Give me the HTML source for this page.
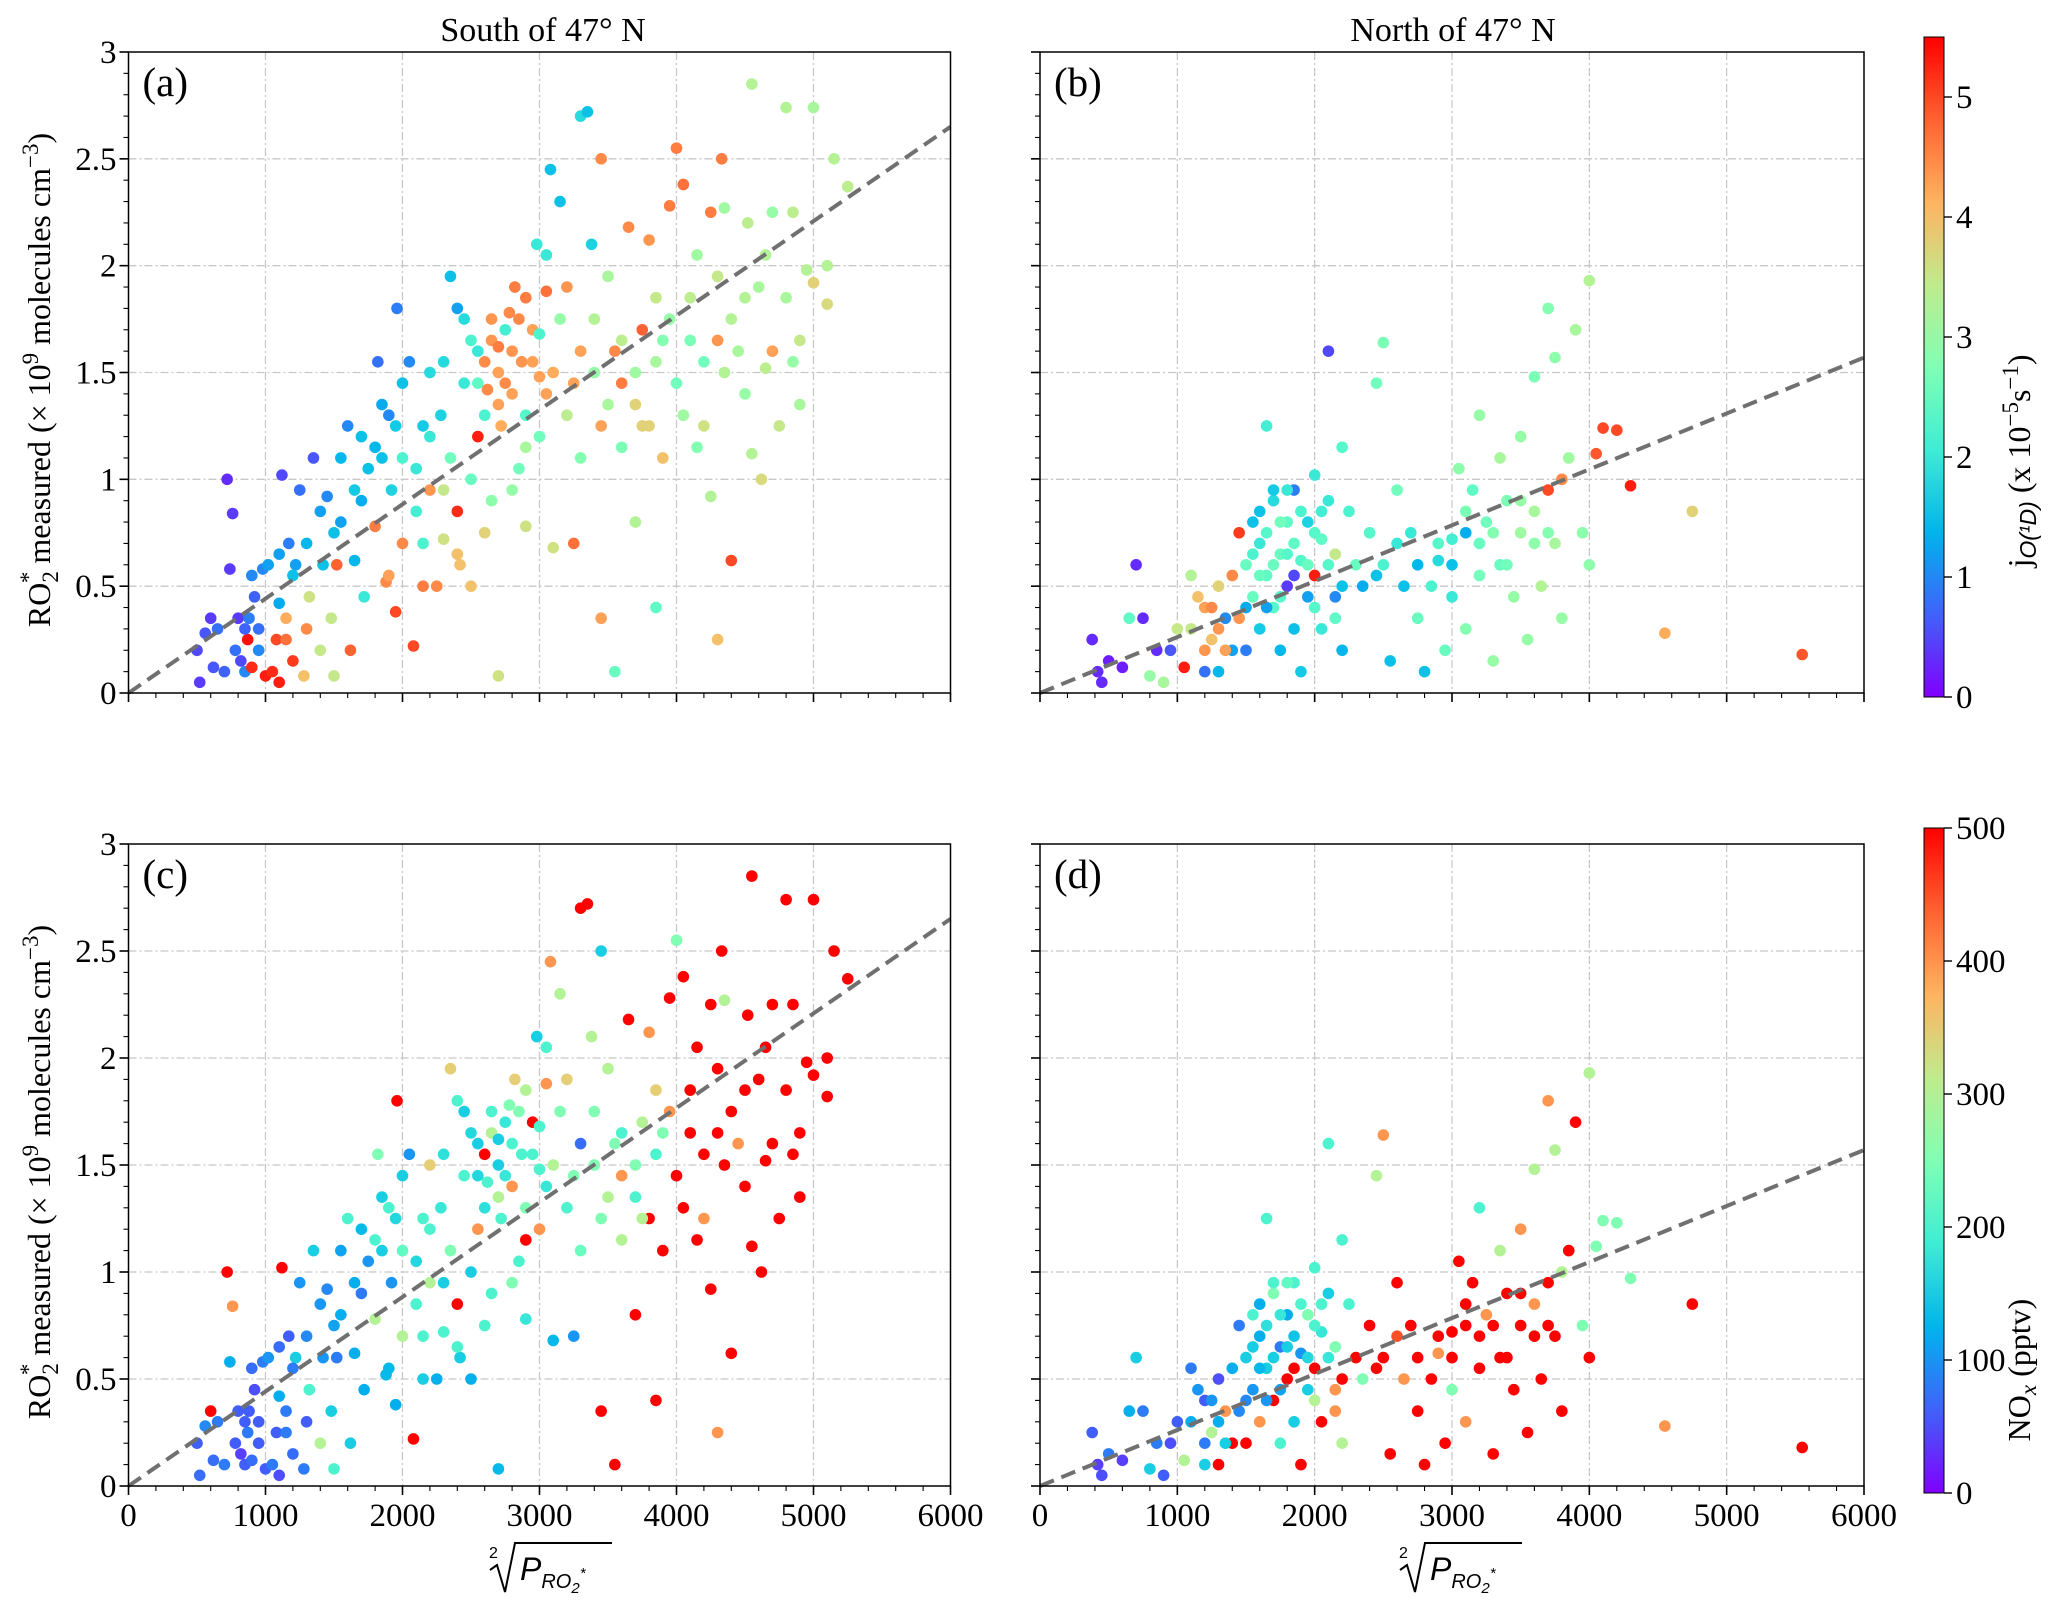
<!DOCTYPE html>
<html><head><meta charset="utf-8">
<style>
html,body{margin:0;padding:0;background:#fff;}
svg{display:block;}
</style></head>
<body>
<svg id="fig" width="2067" height="1612" viewBox="0 0 2067 1612" xmlns="http://www.w3.org/2000/svg" font-family="Liberation Serif, DejaVu Serif, serif">
<defs>
<linearGradient id="rb" x1="0" y1="1" x2="0" y2="0">
<stop offset="0" stop-color="#8000ff"/><stop offset="0.125" stop-color="#4062fa"/><stop offset="0.25" stop-color="#00b5eb"/><stop offset="0.375" stop-color="#40ecd4"/><stop offset="0.5" stop-color="#80ffb4"/><stop offset="0.625" stop-color="#c0eb8d"/><stop offset="0.75" stop-color="#ffb360"/><stop offset="0.875" stop-color="#ff6230"/><stop offset="1" stop-color="#ff0000"/>
</linearGradient>
</defs>
<g id="root"></g>
<text x="543" y="41" font-size="34" text-anchor="middle">South of 47° N</text>
<text x="1453" y="41" font-size="34" text-anchor="middle">North of 47° N</text>
<text transform="translate(50,380) rotate(-90)" font-size="32" text-anchor="middle">RO<tspan font-size="23" dy="8">2</tspan><tspan font-size="23" dy="-22" dx="-12">*</tspan><tspan dy="14"> measured (× 10</tspan><tspan font-size="23" dy="-12">9</tspan><tspan dy="12"> molecules cm</tspan><tspan font-size="23" dy="-12">−3</tspan><tspan dy="12">)</tspan></text>
<text transform="translate(50,1172) rotate(-90)" font-size="32" text-anchor="middle">RO<tspan font-size="23" dy="8">2</tspan><tspan font-size="23" dy="-22" dx="-12">*</tspan><tspan dy="14"> measured (× 10</tspan><tspan font-size="23" dy="-12">9</tspan><tspan dy="12"> molecules cm</tspan><tspan font-size="23" dy="-12">−3</tspan><tspan dy="12">)</tspan></text>
<text transform="translate(2030,461) rotate(-90)" font-size="32" text-anchor="middle">j<tspan font-size="23" dy="6" font-style="italic" font-family="Liberation Sans, sans-serif">O(¹D)</tspan><tspan dy="-6"> (x 10</tspan><tspan font-size="23" dy="-12">−5</tspan><tspan dy="12">s</tspan><tspan font-size="23" dy="-12">−1</tspan><tspan dy="12">)</tspan></text>
<text transform="translate(2030,1370) rotate(-90)" font-size="32" text-anchor="middle">NO<tspan font-size="23" dy="6" font-style="italic">x</tspan><tspan dy="-6"> (pptv)</tspan></text>
<g font-family="Liberation Sans, sans-serif">
<path d="M490 1570 L497 1565 L505 1592 L515 1543 L612 1543" fill="none" stroke="#000" stroke-width="2"/>
<text x="489" y="1558" font-size="16">2</text>
<text x="520" y="1580" font-size="32" font-style="italic">P<tspan font-size="20" dy="8">RO</tspan><tspan font-size="15" dy="5">2</tspan><tspan font-size="15" dy="-15">*</tspan></text>
</g>
<g font-family="Liberation Sans, sans-serif">
<path d="M1400 1570 L1407 1565 L1415 1592 L1425 1543 L1522 1543" fill="none" stroke="#000" stroke-width="2"/>
<text x="1399" y="1558" font-size="16">2</text>
<text x="1430" y="1580" font-size="32" font-style="italic">P<tspan font-size="20" dy="8">RO</tspan><tspan font-size="15" dy="5">2</tspan><tspan font-size="15" dy="-15">*</tspan></text>
</g>
</svg>
<script>
// South of 47N: x, y, jO1D, NOx
const southX = [500,520,560,600,620,650,700,720,740,760,780,800,820,850,870,880,900,920,950,980,1000,1020,1050,1080,1100,1100,1120,1150,1170,1200,1220,1250,1280,1300,1320,1350,1400,1420,1450,1480,1500,1520,1550,1600,1620,1650,1700,1720,1750,1800,1820,1850,1880,1900,1920,1950,1960,2000,2000,2050,2080,2100,2150,2150,2200,2200,2250,2280,2300,2350,2350,2400,2400,2420,2450,2500,2500,2550,2550,2600,2620,2650,2650,2700,2700,2720,2750,2780,2800,2820,2850,2870,2900,2900,2950,2980,3000,3000,3050,3050,3080,3100,3100,3150,3150,3200,3200,3250,3250,3300,3300,3350,3380,3400,3450,3450,3450,3500,3550,3550,3600,3600,3650,3700,3700,3750,3800,3800,3850,3850,3900,3900,3950,4000,4000,4050,4050,4100,4150,4150,4200,4200,4250,4250,4300,4300,4330,4350,4350,4400,4450,4500,4520,4550,4550,4600,4620,4650,4700,4700,4750,4800,4800,4850,4850,4900,4950,5000,5000,5100,5100,5150,5250,
 2600,2650,2700,2750,2800,2850,2900,2950,3000,3050,2700,2600,2550,2500,2450,2300,2200,2100,2000,1950,1850,1800,1700,1650,1550,1500,1400,1300,1200,1100,900,850,950,1150,3300,3400,3500,3600,3700,3750,3850,3950,4100,4300,4400,4500,4650,4900,2900,2800,2400,2300,2150,1900];
const southY = [0.2,0.05,0.28,0.35,0.12,0.3,0.1,1.0,0.58,0.84,0.2,0.35,0.15,0.1,0.25,0.35,0.12,0.45,0.3,0.58,0.08,0.6,0.1,0.25,0.42,0.05,1.02,0.35,0.7,0.15,0.6,0.95,0.08,0.3,0.45,1.1,0.2,0.6,0.92,0.35,0.08,0.6,0.8,1.25,0.2,0.62,0.9,0.45,1.05,0.78,1.55,1.1,0.52,1.3,0.95,0.38,1.8,1.1,0.7,1.55,0.22,0.85,1.25,0.5,1.5,0.95,0.5,1.3,0.72,1.95,1.1,0.85,1.8,0.6,1.45,1.0,0.5,1.2,1.6,0.75,1.42,1.65,0.9,1.5,0.08,1.25,1.7,1.78,1.4,1.9,1.05,1.55,1.3,0.78,1.7,2.1,1.48,1.2,2.05,1.88,2.45,1.5,0.68,1.75,2.3,1.3,1.9,0.7,1.45,2.7,1.1,2.72,2.1,1.5,2.5,0.35,1.25,1.95,0.1,1.6,1.15,1.45,2.18,1.35,0.8,1.7,1.25,2.12,0.4,1.85,1.65,1.1,2.28,2.55,1.45,2.38,1.3,1.65,2.05,1.15,1.25,1.55,2.25,0.92,1.65,0.25,2.5,2.27,1.5,0.62,1.6,1.4,2.2,2.85,1.12,1.9,1.0,1.52,2.25,1.6,1.25,2.74,1.85,1.55,2.25,1.35,1.98,2.74,1.92,2.0,1.82,2.5,2.37,
 1.55,1.75,1.62,1.45,1.6,1.75,1.85,1.55,1.68,1.4,1.35,1.3,1.45,1.65,1.75,1.55,1.2,1.05,1.45,1.25,1.35,1.15,1.2,0.95,1.1,0.75,0.85,0.7,0.55,0.65,0.55,0.3,0.2,0.25,1.6,1.75,1.35,1.65,1.5,1.25,1.55,1.75,1.85,1.95,1.75,1.85,2.05,1.65,1.15,0.95,0.65,0.95,0.7,0.55];
const southJ = [0.5,0.4,0.6,0.4,0.6,0.8,0.7,0.3,0.4,0.4,0.8,0.4,0.5,1.0,5.4,0.9,5.2,0.7,0.8,1.0,5.3,1.2,5.2,5.0,1.3,5.3,0.5,4.2,0.9,5.1,1.2,0.8,4.0,4.5,3.6,0.6,3.5,1.5,1.0,3.5,3.5,4.8,1.2,1.0,4.8,1.4,1.3,2.0,1.5,4.6,0.8,1.5,4.5,1.0,1.7,5.0,0.9,2.2,4.5,1.0,5.0,2.1,1.6,4.6,1.8,4.4,4.5,1.7,3.6,1.5,2.6,5.2,1.2,4.0,2.0,2.5,4.0,5.3,2.0,3.8,4.5,4.4,2.9,4.3,3.6,4.2,2.1,4.5,4.3,4.6,2.6,4.4,2.3,3.6,4.3,2.0,4.3,2.6,2.0,4.7,1.5,4.2,3.6,3.0,1.5,3.4,4.4,4.7,4.3,1.8,2.8,1.5,1.7,3.0,4.5,4.3,4.3,3.2,2.5,4.5,2.7,4.6,4.5,3.8,3.3,4.8,3.8,4.4,2.4,3.5,2.8,4.0,4.6,4.6,2.6,4.7,3.1,2.7,3.1,2.8,3.6,2.6,4.6,3.3,4.4,4.0,4.6,3.1,3.3,5.0,3.2,3.0,3.4,3.3,3.3,3.2,3.7,3.4,3.0,4.3,3.5,3.3,3.2,3.0,3.4,3.2,3.3,3.2,3.8,3.3,3.7,3.3,3.4,
 4.5,4.4,4.6,4.5,4.4,4.5,4.6,4.3,2.2,4.3,4.3,2.2,2.4,2.2,1.8,1.8,2.0,2.0,1.5,1.6,1.3,1.4,1.5,1.6,1.4,1.5,1.2,1.4,1.5,1.2,1.0,0.7,1.0,4.7,4.3,3.3,3.2,3.4,3.1,3.8,3.2,3.0,3.4,3.5,3.3,3.3,3.3,3.5,3.2,3.0,4.0,3.5,2.2,4.3];
const southNOx = [60,70,90,500,70,80,80,500,120,400,60,60,40,60,80,60,70,50,60,80,60,100,80,60,120,50,500,80,60,70,150,100,80,60,200,150,300,100,90,150,200,80,120,200,150,120,80,120,100,300,250,150,130,200,100,120,500,220,300,100,500,200,200,150,350,300,120,180,200,350,250,500,200,150,200,150,120,400,150,200,200,300,200,150,130,200,180,250,400,350,200,200,250,180,500,150,200,400,200,400,400,300,130,250,300,200,350,100,250,500,230,500,300,250,150,500,250,300,500,250,300,400,500,200,500,300,500,400,500,350,250,500,500,250,500,500,500,500,500,500,400,500,500,500,500,400,500,300,500,500,400,500,500,500,500,500,500,500,500,500,500,500,500,500,500,500,500,500,500,500,500,500,500,500,
 200,150,180,200,250,300,200,200,180,300,170,160,160,150,170,200,160,150,160,150,200,130,120,110,110,100,90,80,70,70,60,60,80,70,250,300,200,250,300,200,400,500,500,500,500,500,500,500,250,200,150,200,130,120];
// North of 47N
const northX = [380,420,450,500,600,650,700,750,800,850,900,950,1000,1050,1100,1100,1150,1200,1200,1250,1300,1300,1350,1400,1400,1450,1450,1500,1500,1550,1550,1600,1600,1650,1650,1700,1700,1750,1750,1800,1800,1850,1850,1900,1900,1950,1950,2000,2000,2050,2050,2100,2100,2150,2150,2200,2200,2250,2300,2350,2400,2450,2500,2500,2550,2600,2650,2700,2750,2800,2850,2900,2950,3000,3000,3050,3100,3100,3150,3200,3200,3250,3300,3350,3350,3400,3450,3500,3500,3550,3600,3600,3650,3700,3700,3750,3750,3800,3800,3850,3900,3950,4000,4000,4050,4100,4200,4300,4550,4750,5550,
 1550,1600,1650,1700,1750,1800,1850,1900,1950,2000,2050,2100,1600,1700,1800,1500,1650,1750,1850,2000,2150,2200,1300,1250,1350,1200,2900,3000,3100,3200,3300,3400,3500,3600,3700,2750,2600,2450];
const northY = [0.25,0.1,0.05,0.15,0.12,0.35,0.6,0.35,0.08,0.2,0.05,0.2,0.3,0.12,0.55,0.3,0.45,0.1,0.4,0.25,0.5,0.1,0.35,0.55,0.2,0.75,0.35,0.6,0.2,0.8,0.45,0.7,0.3,1.25,0.55,0.9,0.4,0.65,0.2,0.8,0.5,0.95,0.3,0.62,0.1,0.8,0.45,1.02,0.55,0.72,0.3,1.6,0.9,0.45,0.65,1.15,0.2,0.85,0.6,0.5,0.75,1.45,1.64,0.6,0.15,0.95,0.5,0.75,0.35,0.1,0.5,0.62,0.2,0.72,0.45,1.05,0.75,0.3,0.95,1.3,0.55,0.8,0.15,0.6,1.1,0.9,0.45,1.2,0.75,0.25,0.85,1.48,0.5,1.8,0.95,1.57,0.7,1.0,0.35,1.1,1.7,0.75,1.93,0.6,1.12,1.24,1.23,0.97,0.28,0.85,0.18,
 0.65,0.55,0.75,0.6,0.8,0.65,0.7,0.85,0.6,0.75,0.85,0.6,0.85,0.95,0.95,0.4,0.4,0.45,0.55,0.4,0.35,0.5,0.3,0.4,0.2,0.2,0.7,0.6,0.85,0.7,0.75,0.6,0.9,0.7,0.75,0.6,0.7,0.55];
const northJ = [0.3,0.3,0.3,0.2,0.2,2.4,0.3,0.3,3.0,0.3,3.2,0.6,3.5,5.3,3.3,3.5,4.0,0.8,4.3,4.0,3.8,1.4,1.0,4.5,1.2,5.1,4.4,2.5,0.9,1.5,2.5,2.0,1.6,2.1,2.4,1.8,2.3,2.5,1.4,2.4,0.4,0.9,1.5,2.3,1.6,1.7,1.2,2.0,5.3,2.4,2.0,0.5,2.0,1.0,3.5,2.3,1.4,2.2,2.5,1.3,2.3,2.6,2.7,2.2,1.5,2.6,1.5,2.0,2.5,1.5,2.2,1.8,2.5,2.1,2.0,2.9,1.3,2.8,2.4,3.0,2.6,2.6,3.0,2.5,3.2,2.7,3.0,3.0,3.1,3.0,3.2,2.7,3.3,2.8,5.0,2.9,3.2,4.5,3.0,3.1,3.2,2.9,3.3,2.9,4.9,5.0,5.0,5.3,4.2,3.8,4.9,
 2.2,2.5,2.3,2.5,2.6,2.3,2.4,2.2,2.5,2.3,2.1,2.3,1.5,1.6,2.0,1.3,1.2,2.3,0.5,2.3,2.4,1.5,4.4,4.5,4.3,4.4,2.3,1.5,2.7,2.5,2.8,2.6,3.0,2.9,2.8,1.4,2.0,1.5];
const northNOx = [60,40,50,80,40,120,150,80,150,80,60,50,60,300,80,120,100,150,60,300,50,500,400,120,500,80,90,150,500,200,100,120,400,200,150,250,500,80,200,120,500,200,150,100,500,250,150,200,500,180,500,200,150,400,250,200,300,200,500,250,500,300,400,500,500,500,400,500,500,500,500,400,500,500,250,500,500,400,500,200,500,400,500,500,300,500,500,400,500,500,400,300,500,400,500,300,500,300,500,500,500,250,300,500,250,250,250,250,400,500,500,
 150,130,170,150,180,150,140,200,160,200,200,180,120,200,220,90,100,110,500,300,400,500,120,100,150,80,500,500,500,500,500,500,500,500,500,500,450,500];
const jTicks = [0,1,2,3,4,5];
const noxTicks = [0,100,200,300,400,500];
const xTicks = [0,1000,2000,3000,4000,5000,6000];
const yTicks = [0,0.5,1,1.5,2,2.5,3];
const yTickLabels = ["0","0.5","1","1.5","2","2.5","3"];
const fitSlopeSouth = 2.65/6000;
const fitSlopeNorth = 1.57/6000;

const NS = "http://www.w3.org/2000/svg";
const root = document.getElementById("root");
function el(tag, attrs, parent, text){
  const e = document.createElementNS(NS, tag);
  for (const k in attrs) e.setAttribute(k, attrs[k]);
  if (text !== undefined) e.textContent = text;
  (parent||root).appendChild(e);
  return e;
}
function rainbow(t){
  t = Math.max(0, Math.min(1, t));
  const r = Math.min(1, Math.abs(2*t - 0.5));
  const g = Math.sin(Math.PI*t);
  const b = Math.cos(Math.PI*t/2);
  return "rgb(" + Math.round(r*255) + "," + Math.round(g*255) + "," + Math.round(b*255) + ")";
}

const layout = [
  {id:"a", L:128.5, R:950.5, T:52, B:693, X:southX, Y:southY, C:southJ, cmax:5.5, slope:fitSlopeSouth, yLabels:true, xLabels:false},
  {id:"b", L:1040, R:1864, T:52, B:693, X:northX, Y:northY, C:northJ, cmax:5.5, slope:fitSlopeNorth, yLabels:false, xLabels:false},
  {id:"c", L:128.5, R:950.5, T:844, B:1486, X:southX, Y:southY, C:southNOx, cmax:500, slope:fitSlopeSouth, yLabels:true, xLabels:true},
  {id:"d", L:1040, R:1864, T:844, B:1486, X:northX, Y:northY, C:northNOx, cmax:500, slope:fitSlopeNorth, yLabels:false, xLabels:true}
];

layout.forEach(p => {
  const g = el("g", {});
  
  
  const sx = v => p.L + (v/6000)*(p.R-p.L);
  const sy = v => p.B - (v/3)*(p.B-p.T);
  xTicks.forEach(v => { if (v>0 && v<6000) el("line",{x1:sx(v),x2:sx(v),y1:p.T,y2:p.B,stroke:"#c8c8c8","stroke-width":1.3,"stroke-dasharray":"8,3,2,3"},g); });
  yTicks.forEach(v => { if (v>0 && v<3) el("line",{x1:p.L,x2:p.R,y1:sy(v),y2:sy(v),stroke:"#c8c8c8","stroke-width":1.3,"stroke-dasharray":"8,3,2,3"},g); });
  for (let i=0;i<p.X.length;i++){
    const c = el("circle",{cx:sx(p.X[i]),cy:sy(p.Y[i]),r:5.8,fill:rainbow(p.C[i]/p.cmax)},g);
    
    
  }
  const fl = el("line",{x1:sx(0),y1:sy(0),x2:sx(6000),y2:sy(6000*p.slope),stroke:"#707070","stroke-width":4,"stroke-dasharray":"15,8"},g);
  
  
  el("rect",{x:p.L,y:p.T,width:p.R-p.L,height:p.B-p.T,fill:"none",stroke:"#000","stroke-width":1.5},g);
  for (let v=0; v<=6000; v+=200){
    const major = v%1000===0;
    el("line",{x1:sx(v),x2:sx(v),y1:p.B,y2:p.B+(major?9:5),stroke:"#000","stroke-width":major?1.6:1.1},g);
  }
  for (let k=0; k<=30; k++){
    const v = k/10, major = k%5===0;
    el("line",{x1:p.L,x2:p.L-(major?9:5),y1:sy(v),y2:sy(v),stroke:"#000","stroke-width":major?1.6:1.1},g);
  }
  if (p.xLabels) xTicks.forEach(v => {
    const t = el("text",{x:sx(v),y:p.B+40,"font-size":33,"text-anchor":"middle"},g,String(v));
    
    
  });
  if (p.yLabels) yTicks.forEach((v,i) => {
    const t = el("text",{x:p.L-12,y:sy(v)+11,"font-size":33,"text-anchor":"end"},g,yTickLabels[i]);
    
    
  });
  const pl = el("text",{x:p.L+14,y:p.T+44,"font-size":41},g,"(" + p.id + ")");
  
  
});

const cbs = [
  {T:37, B:697, ticks:jTicks, max:5.5, name:"colorbar-jo1d"},
  {T:828, B:1493, ticks:noxTicks, max:500, name:"colorbar-nox"}
];
cbs.forEach(cb => {
  const g = el("g",{});
  
  
  el("rect",{x:1924,y:cb.T,width:20,height:cb.B-cb.T,fill:"url(#rb)",stroke:"#000","stroke-width":1},g);
  cb.ticks.forEach(v => {
    const y = cb.B - (v/cb.max)*(cb.B-cb.T);
    el("line",{x1:1944,x2:1952,y1:y,y2:y,stroke:"#000","stroke-width":1.4},g);
    const t = el("text",{x:1956,y:y+11,"font-size":33},g,String(v));
    
    
  });
});
</script>
</body></html>
